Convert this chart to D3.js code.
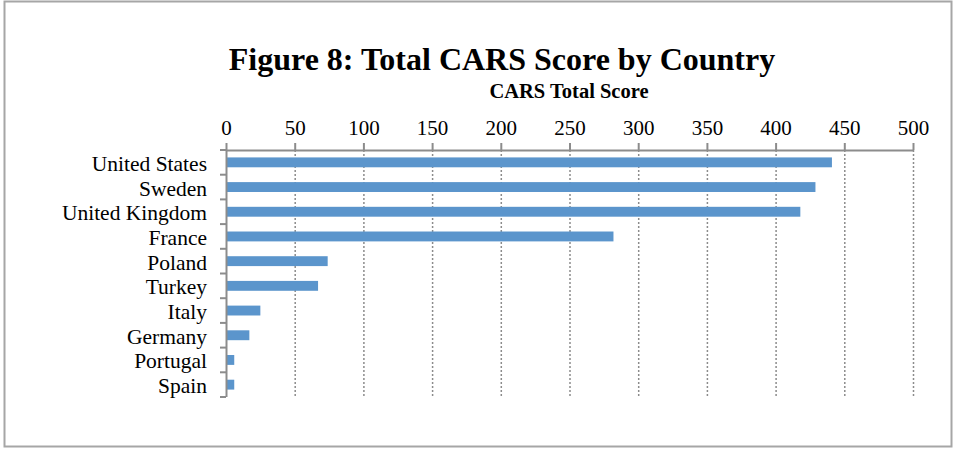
<!DOCTYPE html>
<html>
<head>
<meta charset="utf-8">
<script src="https://cdn.jsdelivr.net/npm/d3@7"></script>
<style>
	body { margin: 0; background: #fff; }
	text { font-family: "Liberation Serif", "Times New Roman", serif; fill: #000; }
</style>
</head>
<body>
<div id="chart-area"></div>
<script>
var countries = ['United States', 'Sweden', 'United Kingdom', 'France', 'Poland', 'Turkey', 'Italy', 'Germany', 'Portugal', 'Spain'];
var scores = [441, 429, 418, 282, 74, 67, 25, 17, 6, 6];
var tickValues = [0, 50, 100, 150, 200, 250, 300, 350, 400, 450, 500];

var W = 956, H = 449;
var margin = { left: 226, right: 43, top: 150, bottom: 52 };
var width = W - margin.left - margin.right;
var height = H - margin.top - margin.bottom;

var svg = d3.select('#chart-area')
	.append('svg')
	.attr('width', W)
	.attr('height', H);

// outer frame
svg.append('rect')
	.attr('x', 4.5)
	.attr('y', 1.5)
	.attr('width', 947)
	.attr('height', 445)
	.attr('fill', '#fff')
	.attr('stroke', '#a6a6a6')
	.attr('stroke-width', 2);

svg.append('text')
	.attr('x', 502)
	.attr('y', 70)
	.attr('text-anchor', 'middle')
	.attr('font-size', '32px')
	.attr('font-weight', 'bold')
	.text('Figure 8: Total CARS Score by Country');

svg.append('text')
	.attr('x', 569)
	.attr('y', 98)
	.attr('text-anchor', 'middle')
	.attr('font-size', '20.5px')
	.attr('font-weight', 'bold')
	.text('CARS Total Score');

var g = svg.append('g')
	.attr('transform', `translate(${margin.left}, ${margin.top})`);

var x = d3.scaleLinear()
	.domain([0, 500])
	.range([0, width]);
var y = d3.scaleBand()
	.domain(countries)
	.range([0, height])
	.paddingInner(0.6)
	.paddingOuter(0.3);

// dotted gridlines
g.selectAll('.grid')
	.data(tickValues.slice(1))
	.enter().append('line')
	.attr('class', 'grid')
	.attr('x1', d => x(d) + 0.5)
	.attr('x2', d => x(d) + 0.5)
	.attr('y1', 0)
	.attr('y2', height)
	.attr('stroke', '#8c8c8c')
	.attr('stroke-width', 1.5)
	.attr('stroke-dasharray', '2,2');

g.selectAll('.bar')
	.data(scores)
	.enter().append('rect')
	.attr('class', 'bar')
	.attr('x', x(0) + 1)
	.attr('y', (d, i) => y(countries[i]))
	.attr('width', d => x(d) - x(0) - 1)
	.attr('height', y.bandwidth())
	.attr('fill', '#5b95cc');

var xAxisCall = d3.axisTop(x)
	.tickValues(tickValues)
	.tickSize(7)
	.tickSizeOuter(0)
	.tickPadding(8);
var xAxis = g.append('g')
	.attr('class', 'x axis')
	.call(xAxisCall);
xAxis.selectAll('text')
	.attr('font-size', '21px')
	.style('font-family', '"Liberation Serif", serif')
	.attr('fill', '#000');

// y axis with ticks at category boundaries
var step = height / countries.length;
var yAxis = g.append('g').attr('class', 'y axis');
yAxis.append('line')
	.attr('x1', 0.5).attr('x2', 0.5)
	.attr('y1', 0).attr('y2', height)
	.attr('stroke', '#8c8c8c')
	.attr('stroke-width', 2);
yAxis.selectAll('.ytick')
	.data(d3.range(countries.length + 1))
	.enter().append('line')
	.attr('class', 'ytick')
	.attr('x1', -6).attr('x2', 0)
	.attr('y1', d => d * step)
	.attr('y2', d => d * step)
	.attr('stroke', '#8c8c8c')
	.attr('stroke-width', 2);
yAxis.selectAll('.ylabel')
	.data(countries)
	.enter().append('text')
	.attr('class', 'ylabel')
	.attr('x', -19)
	.attr('y', d => y(d) + y.bandwidth() / 2 + 1)
	.attr('dy', '0.35em')
	.attr('text-anchor', 'end')
	.attr('font-size', '21.5px')
	.text(d => d);

xAxis.selectAll('line, path')
	.attr('stroke', '#8c8c8c')
	.attr('stroke-width', 2);
</script>
</body>
</html>
